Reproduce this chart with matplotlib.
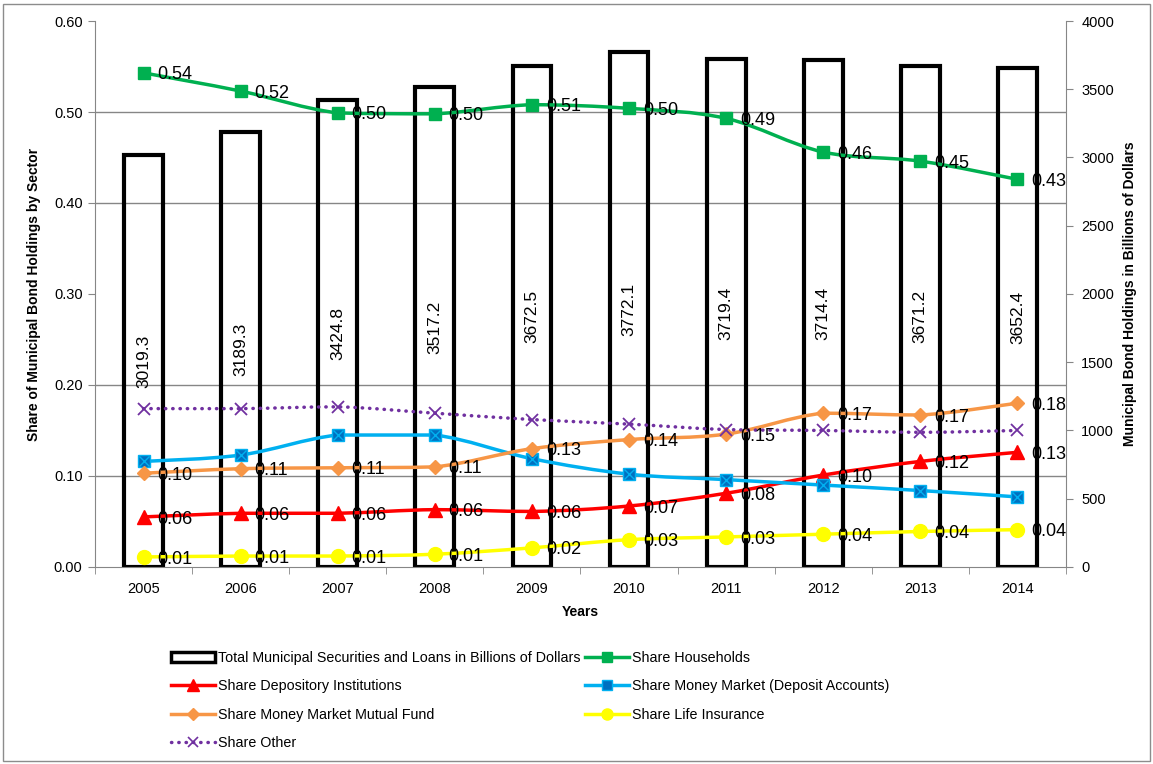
import matplotlib
matplotlib.use("Agg")
import matplotlib.pyplot as plt
import numpy as np
from matplotlib.path import Path
from matplotlib.patches import PathPatch, Patch, Rectangle
from matplotlib.lines import Line2D
from matplotlib.ticker import MultipleLocator, FixedLocator

plt.rcParams['font.family'] = ['Liberation Sans', 'DejaVu Sans']

years = ['2005', '2006', '2007', '2008', '2009', '2010', '2011', '2012', '2013', '2014']
total = [3019.3, 3189.3, 3424.8, 3517.2, 3672.5, 3772.1, 3719.4, 3714.4, 3671.2, 3652.4]
households = [0.543, 0.523, 0.499, 0.498, 0.508, 0.504, 0.493, 0.456, 0.446, 0.426]
depository = [0.055, 0.059, 0.059, 0.063, 0.061, 0.067, 0.081, 0.101, 0.116, 0.126]
money_market = [0.116, 0.123, 0.145, 0.145, 0.119, 0.102, 0.096, 0.090, 0.084, 0.077]
mmmf = [0.103, 0.108, 0.109, 0.110, 0.130, 0.140, 0.146, 0.169, 0.167, 0.180]
life = [0.011, 0.012, 0.012, 0.014, 0.021, 0.030, 0.033, 0.036, 0.039, 0.041]
other = [0.174, 0.174, 0.176, 0.169, 0.162, 0.157, 0.151, 0.150, 0.148, 0.150]

GRID = '#868686'


def smooth_path(x, y):
    # Bezier curve through the points, like Excel's "smoothed line";
    # control points are kept inside each segment's y-range so nothing overshoots
    pts = np.column_stack([x, y]).astype(float)
    n = len(pts)
    verts = [pts[0]]
    codes = [Path.MOVETO]
    for i in range(n - 1):
        p0 = pts[max(i - 1, 0)]
        p1 = pts[i]
        p2 = pts[i + 1]
        p3 = pts[min(i + 2, n - 1)]
        c1 = p1 + (p2 - p0) / 6
        c2 = p2 - (p3 - p1) / 6
        lo, hi = min(p1[1], p2[1]), max(p1[1], p2[1])
        c1[1] = np.clip(c1[1], lo, hi)
        c2[1] = np.clip(c2[1], lo, hi)
        verts += [c1, c2, p2]
        codes += [Path.CURVE4] * 3
    return Path(verts, codes)


fig = plt.figure(figsize=(11.53, 7.64), dpi=100)
ax = fig.add_axes([0.0824, 0.2579, 0.8421, 0.7146])
ax2 = ax.twinx()
ax.set_zorder(ax2.get_zorder() + 1)
ax.patch.set_visible(False)

x = np.arange(len(years))

# bars on right axis
ax2.bar(x, total, width=0.4, facecolor='none', edgecolor='black', linewidth=3, zorder=3)
for xi, v in zip(x, total):
    ax2.text(xi, v / 2, f'{v:.1f}', rotation=90, ha='center', va='center', fontsize=12.5, zorder=4)
ax2.set_ylim(0, 4000)
ax2.yaxis.set_major_locator(MultipleLocator(500))
ax2.yaxis.set_minor_locator(FixedLocator(np.linspace(0, 4000, 7)))
ax2.grid(which='minor', axis='y', color=GRID, linewidth=1)
ax2.set_axisbelow(True)
ax2.tick_params(axis='y', which='minor', length=0)
ax2.tick_params(axis='y', which='major', length=5, color=GRID, labelsize=10.5, pad=6)

series = [
    (households, '#00B050', dict(marker='s', ms=9, mfc='#00B050', mec='#00B050'), '-', True),
    (depository, '#FF0000', dict(marker='^', ms=10, mfc='#FF0000', mec='#FF0000'), '-', True),
    (money_market, '#00B0F0', dict(marker='s', ms=9, mfc='#0070C0', mec='#00B0F0', mew=1), '-', False),
    (mmmf, '#F79646', dict(marker='D', ms=7, mfc='#F79646', mec='#F79646'), '-', True),
    (life, '#FFFF00', dict(marker='o', ms=10, mfc='#FFFF00', mec='#FFFF00'), '-', True),
    (other, '#7030A0', dict(marker='x', ms=8, mec='#7030A0', mew=1.3), (0, (0.1, 2)), False),
]

for vals, color, mk, ls, labelled in series:
    patch = PathPatch(smooth_path(x, vals), fill=False, edgecolor=color, linewidth=2.5,
                      linestyle=ls, capstyle='round', zorder=3)
    ax.add_patch(patch)
    ax.plot(x, vals, linestyle='none', zorder=4, **mk)
    if labelled:
        for xi, v in zip(x, vals):
            ax.annotate(f'{v:.2f}', (xi, v), xytext=(10, -1.5), textcoords='offset points',
                        ha='left', va='center', fontsize=13, zorder=5)

# X over the blue squares
ax.plot(x, money_market, linestyle='none', marker='x', ms=7, mec='#00B0F0', mew=1, zorder=5)

ax.set_xlim(-0.5, len(years) - 0.5)
ax.set_ylim(0, 0.6)
ax.yaxis.set_major_locator(MultipleLocator(0.1))
ax.yaxis.set_major_formatter(matplotlib.ticker.FormatStrFormatter('%.2f'))
ax.set_xticks(x)
ax.set_xticklabels(years)
ax.xaxis.set_minor_locator(FixedLocator(np.arange(-0.5, len(years), 1)))
ax.tick_params(axis='x', which='major', length=0, labelsize=10.5, pad=11)
ax.tick_params(axis='x', which='minor', length=5, color=GRID)
ax.tick_params(axis='y', length=5, color=GRID, labelsize=10.5, pad=4)

for a in (ax, ax2):
    a.spines['top'].set_visible(False)
    for s in ('left', 'right', 'bottom'):
        a.spines[s].set_color(GRID)
ax.spines['right'].set_visible(False)
ax2.spines['left'].set_visible(False)
ax2.spines['bottom'].set_visible(False)

ax.set_ylabel('Share of Municipal Bond Holdings by Sector', fontsize=10, fontweight='bold')
ax.yaxis.set_label_coords(-0.0556, 0.5)
ax2.set_ylabel('Municipal Bond Holdings in Billions of Dollars', fontsize=10, fontweight='bold')
ax2.yaxis.set_label_coords(1.059, 0.5)
ax.set_xlabel('Years', fontsize=10, fontweight='bold')
ax.xaxis.set_label_coords(0.5, -0.07)

# legend, filled column by column
h_total = Patch(facecolor='white', edgecolor='black', linewidth=2.5)
h_house = Line2D([], [], color='#00B050', lw=2.5, marker='s', ms=7)
h_dep = Line2D([], [], color='#FF0000', lw=2.5, marker='^', ms=8)
h_mm = Line2D([], [], color='#00B0F0', lw=2.5, marker='s', ms=7, mfc='#0070C0', mec='#00B0F0')
h_mmmf = Line2D([], [], color='#F79646', lw=2.5, marker='D', ms=6)
h_life = Line2D([], [], color='#FFFF00', lw=2.5, marker='o', ms=8)
h_other = Line2D([], [], color='#7030A0', lw=2.5, linestyle=(0, (0.1, 2)), dash_capstyle='round',
                 marker='x', ms=7, mew=1.2)
handles = [h_total, h_dep, h_mmmf, h_other, h_house, h_mm, h_life]
labels = ['Total Municipal Securities and Loans in Billions of Dollars',
          'Share Depository Institutions',
          'Share Money Market Mutual Fund',
          'Share Other',
          'Share Households',
          'Share Money Market (Deposit Accounts)',
          'Share Life Insurance']
fig.legend(handles, labels, loc='upper left', bbox_to_anchor=(0.143, 0.156), ncol=2,
           frameon=False, fontsize=10.3, handlelength=3.1, handletextpad=0.2,
           columnspacing=0.3, labelspacing=1.02, borderaxespad=0)

fig.patches.append(Rectangle((0.003, 0.004), 0.994, 0.991, transform=fig.transFigure,
                             fill=False, edgecolor='#8c8c8c', linewidth=1))

fig.savefig('out.png', dpi=100, facecolor='white')
